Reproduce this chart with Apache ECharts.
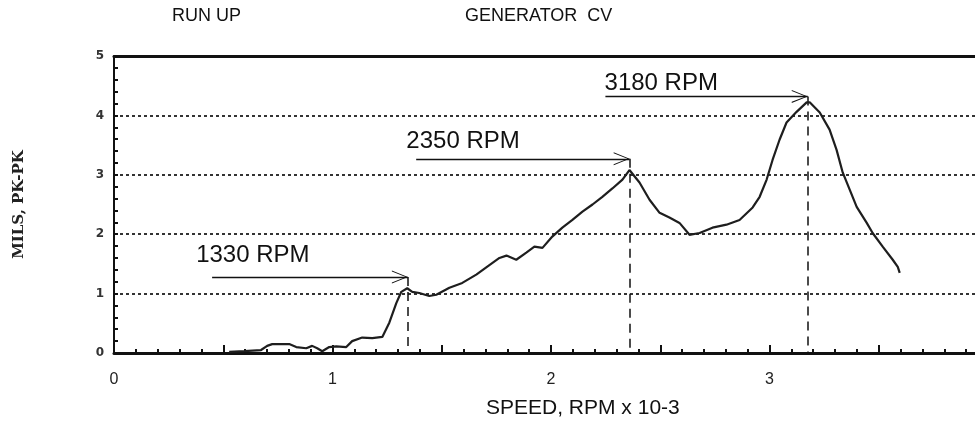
<!DOCTYPE html>
<html>
<head>
<meta charset="utf-8">
<script src="https://cdn.jsdelivr.net/npm/echarts@6/dist/echarts.min.js"></script>
<style>
html,body{margin:0;padding:0;background:#fff;overflow:hidden;width:975px;height:422px;}
#c{width:1000px;height:422px;}
</style>
</head>
<body>
<div id="c"></div>
<script>
// Speed (RPM x 10^-3) and amplitude (mils pk-pk)
const speed = [0.527,0.596,0.673,0.701,0.724,0.802,0.834,0.880,0.907,0.930,0.953,0.985,1.017,1.063,1.090,1.136,1.182,1.228,1.260,1.292,1.315,1.342,1.365,
  1.397,1.443,1.475,1.535,1.594,1.658,1.718,1.764,1.796,1.841,1.887,1.924,1.961,2.006,2.052,2.098,2.144,2.190,2.235,2.281,2.327,2.359,
  2.405,2.451,2.497,2.542,2.588,2.634,2.680,2.739,2.803,2.863,2.923,2.955,2.987,3.014,3.046,3.078,3.124,3.170,3.184,
  3.230,3.275,3.307,3.335,3.367,3.399,3.445,3.472,3.518,3.564,3.587,3.596];
const mils = [0.02,0.03,0.05,0.12,0.15,0.15,0.10,0.08,0.12,0.08,0.03,0.10,0.11,0.10,0.20,0.26,0.25,0.27,0.51,0.84,1.03,1.09,1.03,
  1.01,0.96,0.98,1.10,1.18,1.32,1.48,1.60,1.64,1.57,1.69,1.79,1.77,1.96,2.11,2.24,2.38,2.50,2.63,2.77,2.92,3.08,
  2.87,2.58,2.36,2.28,2.19,1.99,2.02,2.11,2.16,2.24,2.45,2.63,2.92,3.25,3.59,3.88,4.06,4.22,4.22,
  4.05,3.76,3.42,3.04,2.75,2.46,2.19,2.02,1.79,1.57,1.45,1.35];

// Annotations
const annText = ['1330 RPM','2350 RPM','3180 RPM'];
const annPeakX = [1.345, 2.36, 3.175];
const annArrowY = [1.28, 3.27, 4.32];
const annArrowStartX = [0.449, 1.383, 2.249];
const annTextX = [0.376, 1.338, 2.245];
const annTextY = [1.636, 3.558, 4.536];

const xTicks = [0,1,2,3,4];
const yTicks = [0,1,2,3,4,5];

// open chevron whose tip sits at the symbol centre (tiny speck at top keeps the box symmetric)
const arrowHead = 'path://M50,0 L50.2,0 L50.2,0.2 Z M50,50 L100,100 L92,100 L50,57 L8,100 L0,100 Z';

const mlData = [];
const mpData = [];
for (let i = 0; i < annText.length; i++) {
  mlData.push([
    {coord:[annArrowStartX[i], annArrowY[i]], symbol:'none', lineStyle:{type:'solid', width:1.3, color:'#111'}},
    {coord:[annPeakX[i], annArrowY[i]], symbol:arrowHead, symbolSize:[13,32]}
  ]);
  mlData.push([
    {coord:[annPeakX[i], annArrowY[i]], symbol:'none', lineStyle:{type:[9,6], width:1.5, color:'#111'}},
    {coord:[annPeakX[i], 0], symbol:'none'}
  ]);
  mpData.push({coord:[annTextX[i], annTextY[i]], value:annText[i]});
}

const chart = echarts.init(document.getElementById('c'), null, {renderer:'canvas'});
chart.setOption({
  backgroundColor:'#fff',
  animation:false,
  title:[
    {text:'RUN UP', left:172, top:7, padding:0, textStyle:{fontFamily:'Liberation Sans, Arial', fontSize:18, fontWeight:'normal', color:'#111'}},
    {text:'GENERATOR  CV', left:465, top:7, padding:0, textStyle:{fontFamily:'Liberation Sans, Arial', fontSize:18, fontWeight:'normal', color:'#111'}},
    {text:'SPEED, RPM x 10-3', left:486, top:398, padding:0, textStyle:{fontFamily:'Liberation Sans, Arial', fontSize:21, fontWeight:'normal', color:'#111'}}
  ],
  grid:{left:114, top:56, width:874, height:297, containLabel:false},
  xAxis:[{
    type:'value', min:0, max:4, interval:0.5, position:'bottom',
    axisLine:{show:true, onZero:false, lineStyle:{color:'#111', width:3}},
    axisTick:{show:true, inside:true, length:8, lineStyle:{color:'#111', width:2}},
    minorTick:{show:true, splitNumber:5, length:4, lineStyle:{color:'#111', width:2}},
    axisLabel:{margin:19, fontFamily:'Liberation Sans, Arial', fontSize:16, color:'#222',
      formatter:function(v){ return xTicks.indexOf(v) >= 0 ? String(v) : ''; }},
    splitLine:{show:false}
  },{
    type:'value', min:0, max:4, position:'top',
    axisLine:{show:true, onZero:false, lineStyle:{color:'#111', width:3}},
    axisTick:{show:false}, axisLabel:{show:false}, splitLine:{show:false}
  }],
  yAxis:{
    type:'value', min:0, max:5, interval:1,
    name:'MILS, PK-PK', nameLocation:'middle', nameRotate:90, nameGap:87,
    nameTextStyle:{fontFamily:'DejaVu Serif', fontWeight:'bold', fontSize:15, color:'#222'},
    axisLine:{show:true, onZero:false, lineStyle:{color:'#111', width:2}},
    axisTick:{show:true, inside:true, length:4, lineStyle:{color:'#111', width:2}},
    minorTick:{show:true, splitNumber:5, length:4, lineStyle:{color:'#111', width:2}},
    axisLabel:{margin:10, fontFamily:'DejaVu Sans', fontWeight:'bold', fontSize:12, color:'#333',
      formatter:function(v){ return yTicks.indexOf(v) >= 0 ? String(v) : ''; }},
    splitLine:{show:true, lineStyle:{color:'#333', width:2, type:[3,3]}}
  },
  series:[{
    type:'line',
    data: speed.map((s,i)=>[s, mils[i]]),
    showSymbol:false, symbol:'none',
    lineStyle:{color:'#1e1e1e', width:2.2},
    z:5,
    markLine:{
      silent:true, animation:false,
      symbol:['none','none'],
      label:{show:false},
      lineStyle:{color:'#111'},
      data: mlData
    },
    markPoint:{
      silent:true, animation:false,
      symbol:'circle', symbolSize:0,
      label:{show:true, position:'right', distance:0, formatter:function(p){return p.value;},
        fontFamily:'Liberation Sans, Arial', fontSize:24, color:'#111'},
      data: mpData
    }
  }]
});
</script>
</body>
</html>
